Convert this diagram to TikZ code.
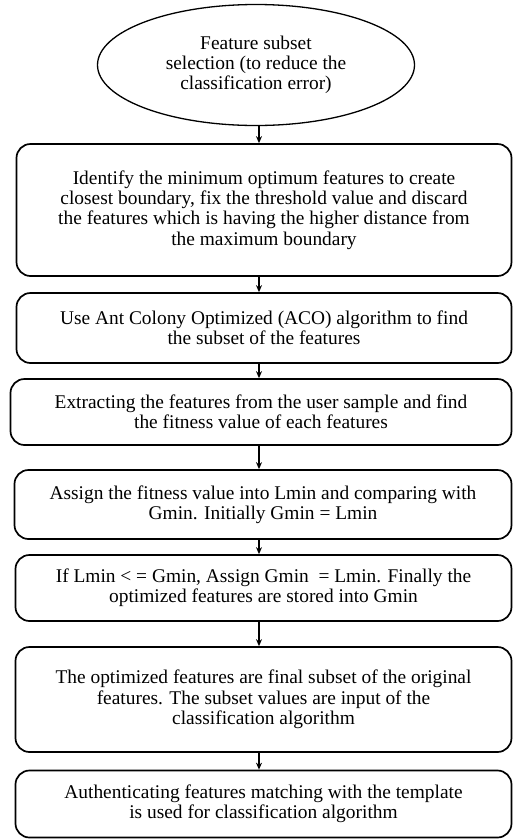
\documentclass[tikz,border=0pt]{standalone}
\usepackage{fontspec}
\setmainfont{Liberation Serif}
\usetikzlibrary{shapes.geometric,arrows.meta}
\begin{document}
\begin{tikzpicture}[x=1pt,y=-1pt,
  every node/.style={font=\fontsize{19.4}{20.3}\selectfont, align=center},
  stepbox/.style={draw, line width=1.7pt, rounded corners=14pt, inner sep=0pt},
  oval/.style={draw, ellipse, line width=1.3pt, inner sep=0pt},
  arr/.style={line width=1.1pt, -{Stealth[length=7pt,width=6pt]}}]
\useasboundingbox (0,0) rectangle (513,839);
\node[oval, minimum width=317pt, minimum height=121pt] (e) at (256,65)
  {Feature subset\\selection (to reduce the\\classification error)};
\node[stepbox, minimum width=495pt, minimum height=132pt] (b1) at (264,210)
  {Identify the minimum optimum features to create\\closest boundary, fix the threshold value and discard\\the features which is having the higher distance from\\the maximum boundary};
\node[stepbox, minimum width=495pt, minimum height=70pt] (b2) at (264,328)
  {Use Ant Colony Optimized (ACO) algorithm to find\\the subset of the features};
\node[stepbox, minimum width=501pt, minimum height=66pt] (b3) at (261,412)
  {Extracting the features from the user sample and find\\the fitness value of each features};
\node[stepbox, minimum width=497pt, minimum height=69pt] (b4) at (263,504.5)
  {Assign the fitness value into Lmin and comparing with\\Gmin. Initially Gmin = Lmin};
\node[stepbox, minimum width=496pt, minimum height=66pt] (b5) at (263.5,588)
  {If Lmin < = Gmin, Assign Gmin\ \ = Lmin. Finally the\\optimized features are stored into Gmin};
\node[stepbox, minimum width=496pt, minimum height=105pt] (b6) at (263.5,699.5)
  {The optimized features are final subset of the original\\features. The subset values are input of the\\classification algorithm};
\node[stepbox, minimum width=496pt, minimum height=67pt] (b7) at (263.5,804)
  {Authenticating features matching with the template\\is used for classification algorithm};
\coordinate (ax) at (259,0);
\draw[arr] (e.south -| ax) -- (b1.north -| ax);
\draw[arr] (b1.south -| ax) -- (b2.north -| ax);
\draw[arr] (b2.south -| ax) -- (b3.north -| ax);
\draw[arr] (b3.south -| ax) -- (b4.north -| ax);
\draw[arr] (b4.south -| ax) -- (b5.north -| ax);
\draw[arr] (b5.south -| ax) -- (b6.north -| ax);
\draw[arr] (b6.south -| ax) -- (b7.north -| ax);
\end{tikzpicture}
\end{document}
